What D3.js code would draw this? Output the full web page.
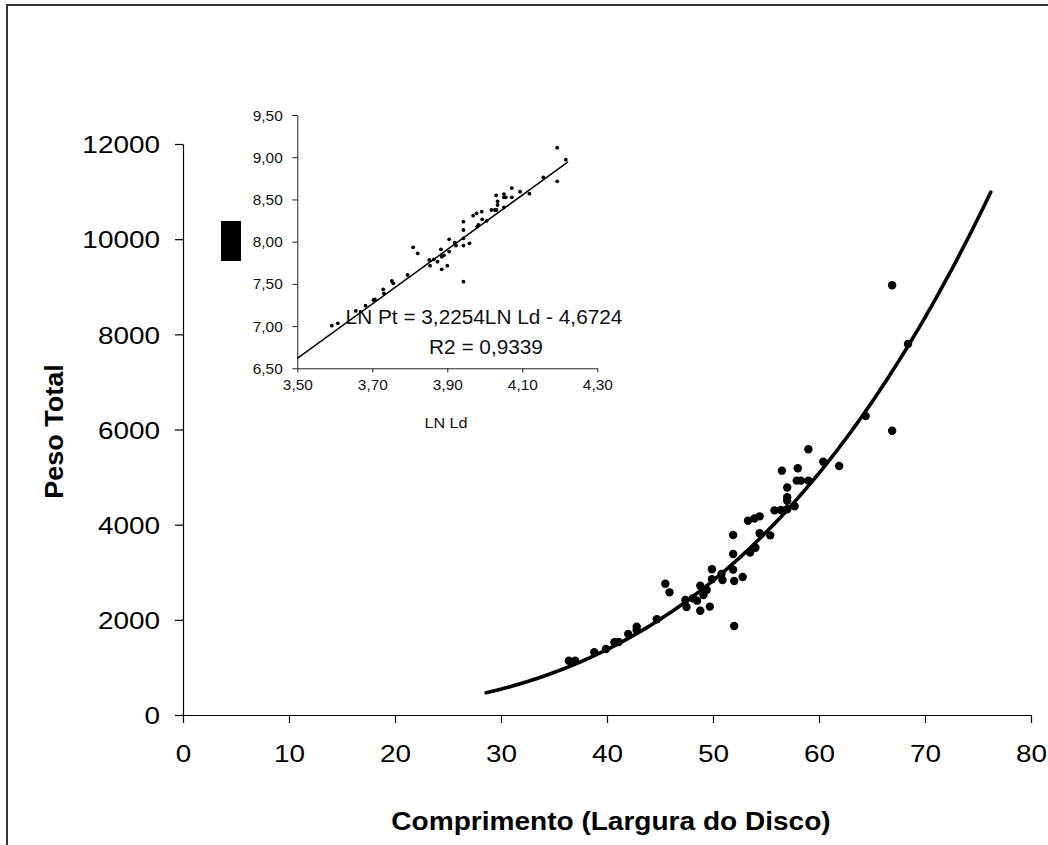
<!DOCTYPE html>
<html><head><meta charset="utf-8">
<script src="https://cdn.jsdelivr.net/npm/d3@7/dist/d3.min.js"></script>
<style>
html,body{margin:0;padding:0;background:#fff;}
svg{display:block;}
</style></head><body>
<svg id="c" width="1048" height="845"></svg>
<script>
// ---- data ----
const mainLd = [36.4,37.0,38.8,39.9,40.7,41.1,42.0,42.8,42.8,44.7,45.5,45.9,47.4,47.5,48.1,48.5,48.8,48.8,49.1,49.4,49.7,49.9,49.9,50.8,50.9,51.9,51.9,51.9,52.0,52.0,52.8,53.3,53.9,54.4,53.5,54.0,54.4,55.4,55.8,56.4,57.0,57.7,57.0,57.0,57.0,56.5,58.0,57.9,58.3,59.0,59.0,60.4,61.9,64.4,66.9,66.9,68.4];
const mainPt = [1141,1141,1318,1387,1528,1535,1702,1856,1780,2011,2760,2578,2417,2270,2452,2403,2715,2190,2522,2627,2277,2852,3062,2963,2837,3783,3384,3055,2816,1871,2900,4084,4130,4175,3415,3515,3819,3776,4300,4309,4323,4386,4575,4504,4782,5135,5185,4925,4925,4925,5584,5324,5233,6284,9031,5975,7797];
const insetLnLd = [3.592,3.608,3.656,3.682,3.703,3.707,3.729,3.731,3.752,3.756,3.794,3.809,3.821,3.852,3.854,3.864,3.874,3.883,3.885,3.885,3.891,3.900,3.905,3.905,3.920,3.923,3.943,3.943,3.943,3.943,3.943,3.959,3.969,3.978,3.980,3.983,3.992,3.993,4.005,4.018,4.027,4.030,4.031,4.034,4.034,4.051,4.051,4.056,4.051,4.072,4.072,4.094,4.119,4.156,4.193,4.193,4.216];
const insetLnPt = [7.005,7.033,7.179,7.242,7.309,7.317,7.435,7.388,7.534,7.506,7.605,7.933,7.862,7.783,7.716,7.791,7.763,7.909,7.672,7.822,7.838,7.716,7.882,8.028,7.988,7.953,7.526,7.953,8.039,8.138,8.237,7.980,8.308,8.335,8.178,8.197,8.355,8.264,8.245,8.375,8.375,8.549,8.375,8.478,8.434,8.564,8.525,8.525,8.407,8.635,8.525,8.592,8.568,8.762,9.113,8.714,8.971];
const xTicks = [0,10,20,30,40,50,60,70,80];
const yTicks = [0,2000,4000,6000,8000,10000,12000];
const insetXTicks = [3.5,3.7,3.9,4.1,4.3];
const insetYTicks = [6.5,7.0,7.5,8.0,8.5,9.0,9.5];
const fitSlope = 3.2254;
const fitIntercept = -4.6724;
const fitR2 = 0.9339;
const curveLdRange = [28.6, 76.5];
const insetLineRange = [3.5, 4.222];
const xTitle = "Comprimento (Largura do Disco)";
const yTitle = "Peso Total";
const insetXTitle = "LN Ld";

// ---- drawing ----
const svg = d3.select("#c");
const FONT = "'Liberation Sans', Arial, sans-serif";
const comma = (v, n) => v.toFixed(n).replace(".", ",");

// frame (only top/left edges visible)
svg.append("path").attr("d", "M7,845 L7,5 L1048,5")
  .attr("fill", "none").attr("stroke", "#333").attr("stroke-width", 2);

// main scales
const x = d3.scaleLinear().domain([0, 80]).range([183, 1031]);
const y = d3.scaleLinear().domain([0, 12000]).range([715, 144]);

const gx = svg.append("g").attr("transform", "translate(0,715)")
  .call(d3.axisBottom(x).tickValues(xTicks).tickSize(8).tickSizeOuter(0).tickPadding(22).tickFormat(d3.format("d")));
const gy = svg.append("g").attr("transform", "translate(183,0)")
  .call(d3.axisLeft(y).tickValues(yTicks).tickSize(8).tickSizeOuter(0).tickFormat(d3.format("d")));
[gx, gy].forEach(g => {
  g.attr("font-family", FONT).attr("font-size", 24.5);
  g.select(".domain").attr("stroke", "#000").attr("stroke-width", 1.2);
  g.selectAll(".tick line").attr("stroke", "#000").attr("stroke-width", 1.2);
  g.selectAll("text").attr("fill", "#000");
});
gx.selectAll("text").attr("transform", "scale(1.14,1)");
gy.selectAll("text").attr("x", -23 / 1.14).attr("dy", "0.36em").attr("transform", "scale(1.14,1)");

// fitted power curve (from displayed equation)
const curveLd = d3.range(curveLdRange[0], curveLdRange[1] + 0.001, 0.4);
const curve = d3.line().x(d => x(d)).y(d => y(Math.exp(fitIntercept) * Math.pow(d, fitSlope)));
svg.append("path").datum(curveLd).attr("d", curve)
  .attr("fill", "none").attr("stroke", "#000").attr("stroke-width", 3.6).attr("stroke-linecap", "round");

// main points
svg.append("g").selectAll("circle").data(mainLd).join("circle")
  .attr("cx", d => x(d)).attr("cy", (d, i) => y(mainPt[i])).attr("r", 4.2).attr("fill", "#000");

// axis titles
svg.append("text").attr("transform", "translate(611,830) scale(1.1,1)")
  .attr("text-anchor", "middle").attr("font-family", FONT).attr("font-weight", "bold")
  .attr("font-size", 25.5).text(xTitle);
svg.append("text").attr("transform", "translate(62.5,431.5) rotate(-90) scale(1.04,1)")
  .attr("text-anchor", "middle").attr("font-family", FONT).attr("font-weight", "bold")
  .attr("font-size", 26).text(yTitle);

// stray black marker
svg.append("rect").attr("x", 221).attr("y", 221).attr("width", 20).attr("height", 40).attr("fill", "#000");

// ---- inset ----
const ix = d3.scaleLinear().domain([3.5, 4.3]).range([297.3, 597.3]);
const iy = d3.scaleLinear().domain([6.5, 9.5]).range([368.3, 115]);
const igx = svg.append("g").attr("transform", "translate(0,368.3)")
  .call(d3.axisBottom(ix).tickValues(insetXTicks).tickSize(4).tickSizeOuter(0).tickPadding(8).tickFormat(d => comma(d, 2)));
const igy = svg.append("g").attr("transform", "translate(297.3,0)")
  .call(d3.axisLeft(iy).tickValues(insetYTicks).tickSize(5).tickSizeOuter(0).tickFormat(d => comma(d, 2)));
[igx, igy].forEach(g => {
  g.attr("font-family", FONT).attr("font-size", 14);
  g.select(".domain").attr("stroke", "#222").attr("stroke-width", 1);
  g.selectAll(".tick line").attr("stroke", "#222").attr("stroke-width", 1);
  g.selectAll("text").attr("fill", "#111");
});
igx.selectAll("text").attr("transform", "scale(1.1,1)");
igy.selectAll("text").attr("x", -14.6 / 1.1).attr("dy", "0.36em").attr("transform", "scale(1.1,1)");

svg.append("text").attr("transform", "translate(446,427.5) scale(1.08,1)")
  .attr("text-anchor", "middle").attr("font-family", FONT).attr("font-size", 15)
  .attr("fill", "#111").text(insetXTitle);

// inset regression line
svg.append("line")
  .attr("x1", ix(insetLineRange[0])).attr("y1", iy(fitSlope * insetLineRange[0] + fitIntercept))
  .attr("x2", ix(insetLineRange[1])).attr("y2", iy(fitSlope * insetLineRange[1] + fitIntercept))
  .attr("stroke", "#000").attr("stroke-width", 1.5);

// inset points
svg.append("g").selectAll("circle").data(insetLnLd).join("circle")
  .attr("cx", d => ix(d)).attr("cy", (d, i) => iy(insetLnPt[i])).attr("r", 1.9).attr("fill", "#000");

// equation text
svg.append("text").attr("transform", "translate(484,324.3) scale(1.04,1)")
  .attr("text-anchor", "middle").attr("font-family", FONT).attr("font-size", 20).attr("fill", "#111")
  .text("LN Pt = " + comma(fitSlope, 4) + "LN Ld - " + comma(-fitIntercept, 4));
svg.append("text").attr("transform", "translate(486,354.3) scale(1.04,1)")
  .attr("text-anchor", "middle").attr("font-family", FONT).attr("font-size", 20).attr("fill", "#111")
  .text("R2 = " + comma(fitR2, 4));
</script>
</body></html>
